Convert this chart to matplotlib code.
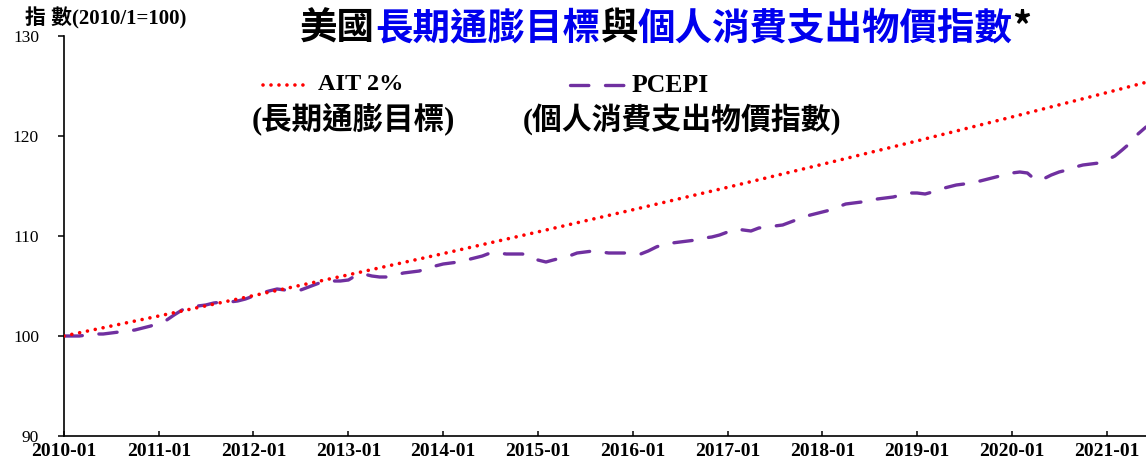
import pandas as pd
import matplotlib
matplotlib.use("Agg")
import matplotlib.pyplot as plt
from matplotlib.lines import Line2D

# PCEPI rebased to 2010/1 = 100, monthly 2010-01 .. 2021-06
pce_values = [
    100.0, 100.0, 100.0, 100.1, 100.2, 100.2, 100.3, 100.4, 100.5, 100.6, 100.8, 101.0,  # 2010
    101.3, 101.6, 102.1, 102.6, 102.9, 103.0, 103.1, 103.3, 103.4, 103.4, 103.5, 103.7,  # 2011
    104.0, 104.3, 104.5, 104.7, 104.6, 104.6, 104.6, 104.9, 105.2, 105.5, 105.5, 105.5,  # 2012
    105.6, 106.1, 106.2, 106.0, 105.9, 105.9, 106.1, 106.3, 106.4, 106.5, 106.8, 107.0,  # 2013
    107.2, 107.3, 107.4, 107.6, 107.8, 108.0, 108.3, 108.3, 108.2, 108.2, 108.2, 108.1,  # 2014
    107.6, 107.4, 107.6, 107.8, 108.0, 108.3, 108.4, 108.5, 108.4, 108.3, 108.3, 108.3,  # 2015
    108.3, 108.2, 108.5, 108.9, 109.2, 109.3, 109.4, 109.5, 109.6, 109.8, 109.9, 110.1,  # 2016
    110.4, 110.7, 110.6, 110.5, 110.8, 110.9, 111.0, 111.1, 111.4, 111.7, 112.0, 112.2,  # 2017
    112.4, 112.6, 112.9, 113.2, 113.3, 113.4, 113.6, 113.7, 113.8, 113.9, 114.1, 114.3,  # 2018
    114.3, 114.2, 114.4, 114.7, 114.9, 115.1, 115.2, 115.4, 115.5, 115.7, 115.9, 116.1,  # 2019
    116.3, 116.4, 116.3, 115.6, 115.7, 116.1, 116.4, 116.6, 116.9, 117.1, 117.2, 117.3,  # 2020
    117.6, 118.0, 118.6, 119.3, 120.2, 120.9,                                            # 2021
]

# 2% long-run target path (values at each January and the last month)
ait_months = ['2010-01', '2011-01', '2012-01', '2013-01', '2014-01', '2015-01', '2016-01',
              '2017-01', '2018-01', '2019-01', '2020-01', '2021-01', '2021-06']
ait_values = [100.0, 102.0, 104.04, 106.12, 108.24, 110.41, 112.62,
              114.87, 117.17, 119.51, 121.90, 124.34, 125.37]

tick_labels = ['2010-01', '2011-01', '2012-01', '2013-01', '2014-01', '2015-01', '2016-01',
               '2017-01', '2018-01', '2019-01', '2020-01', '2021-01']

title_parts = [('美國', 'black'), ('長期通膨目標', '#0000EE'), ('與', 'black'),
               ('個人消費支出物價指數', '#0000EE'), ('*', 'black')]

W, H = 1146, 463
RED = '#FF0000'
PURPLE = '#7030A0'
SERIF = ['Liberation Serif', 'Noto Sans CJK TC']
CJK = ['Noto Sans CJK TC', 'DejaVu Sans']


def fx(px):
    return px / W


def fy(py):
    return 1 - py / H


months = pd.date_range('2010-01-01', periods=len(pce_values), freq='MS')
ait_dates = pd.to_datetime(ait_months)
tick_dates = pd.to_datetime(tick_labels)

fig = plt.figure(figsize=(W / 100, H / 100), dpi=100)
ax = fig.add_axes([fx(64), 27 / H, (W - 64) / W, 400 / H])

dot_style = dict(color=RED, lw=2.6, linestyle=(0, (0.01, 2.2)), dash_capstyle='round')
dash_style = dict(color=PURPLE, lw=2.4, linestyle=(0, (5.5, 5.0)), dash_capstyle='round')

ax.plot(ait_dates, ait_values, **dot_style, zorder=3)
ax.plot(months, pce_values, **dash_style, zorder=2)

ax.set_ylim(90, 130)
ax.set_yticks([90, 100, 110, 120, 130])
ax.set_xlim(months[0], months[-1])
ax.set_xticks(tick_dates)
ax.set_xticklabels(tick_labels)

for s in ['top', 'right']:
    ax.spines[s].set_visible(False)
for s in ['left', 'bottom']:
    ax.spines[s].set_linewidth(1.2)

ax.tick_params(axis='y', direction='out', length=4, width=1.1, pad=14, labelsize=12.5)
ax.tick_params(axis='x', direction='in', length=3.5, width=1.1, pad=5, labelsize=14)
for lab in ax.get_yticklabels():
    lab.set_family('Liberation Serif')
for lab in ax.get_xticklabels():
    lab.set_family('Liberation Serif')
    lab.set_fontweight('bold')

# unit label top-left
fig.text(fx(25), fy(18), '指 數(2010/1=100)', ha='left', va='center',
         fontsize=15, fontweight='bold', family=SERIF)

# multi-colour title
t = fig.text(fx(300), fy(28), title_parts[0][0], ha='left', va='center',
             fontsize=27, fontweight='bold', color=title_parts[0][1], family=CJK)
for piece, col in title_parts[1:]:
    t = ax.annotate(piece, xy=(1, 0), xycoords=t, ha='left', va='bottom',
                    fontsize=27, fontweight='bold', color=col, family=CJK,
                    annotation_clip=False)

# hand-placed legend
fig.add_artist(Line2D([fx(263), fx(307)], [fy(85), fy(85)], transform=fig.transFigure, **dot_style))
fig.add_artist(Line2D([fx(570), fx(628)], [fy(85), fy(85)], transform=fig.transFigure, **dash_style))
fig.text(fx(318), fy(85), 'AIT 2%', ha='left', va='center', fontsize=17.5,
         fontweight='bold', family=SERIF)
fig.text(fx(632), fy(85), 'PCEPI', ha='left', va='center', fontsize=18.5,
         fontweight='bold', family=SERIF)
fig.text(fx(353), fy(119), '(長期通膨目標)', ha='center', va='center', fontsize=22,
         fontweight='bold', family=SERIF)
fig.text(fx(682), fy(119), '(個人消費支出物價指數)', ha='center', va='center', fontsize=21.5,
         fontweight='bold', family=SERIF)

fig.savefig('out.png', dpi=100)
